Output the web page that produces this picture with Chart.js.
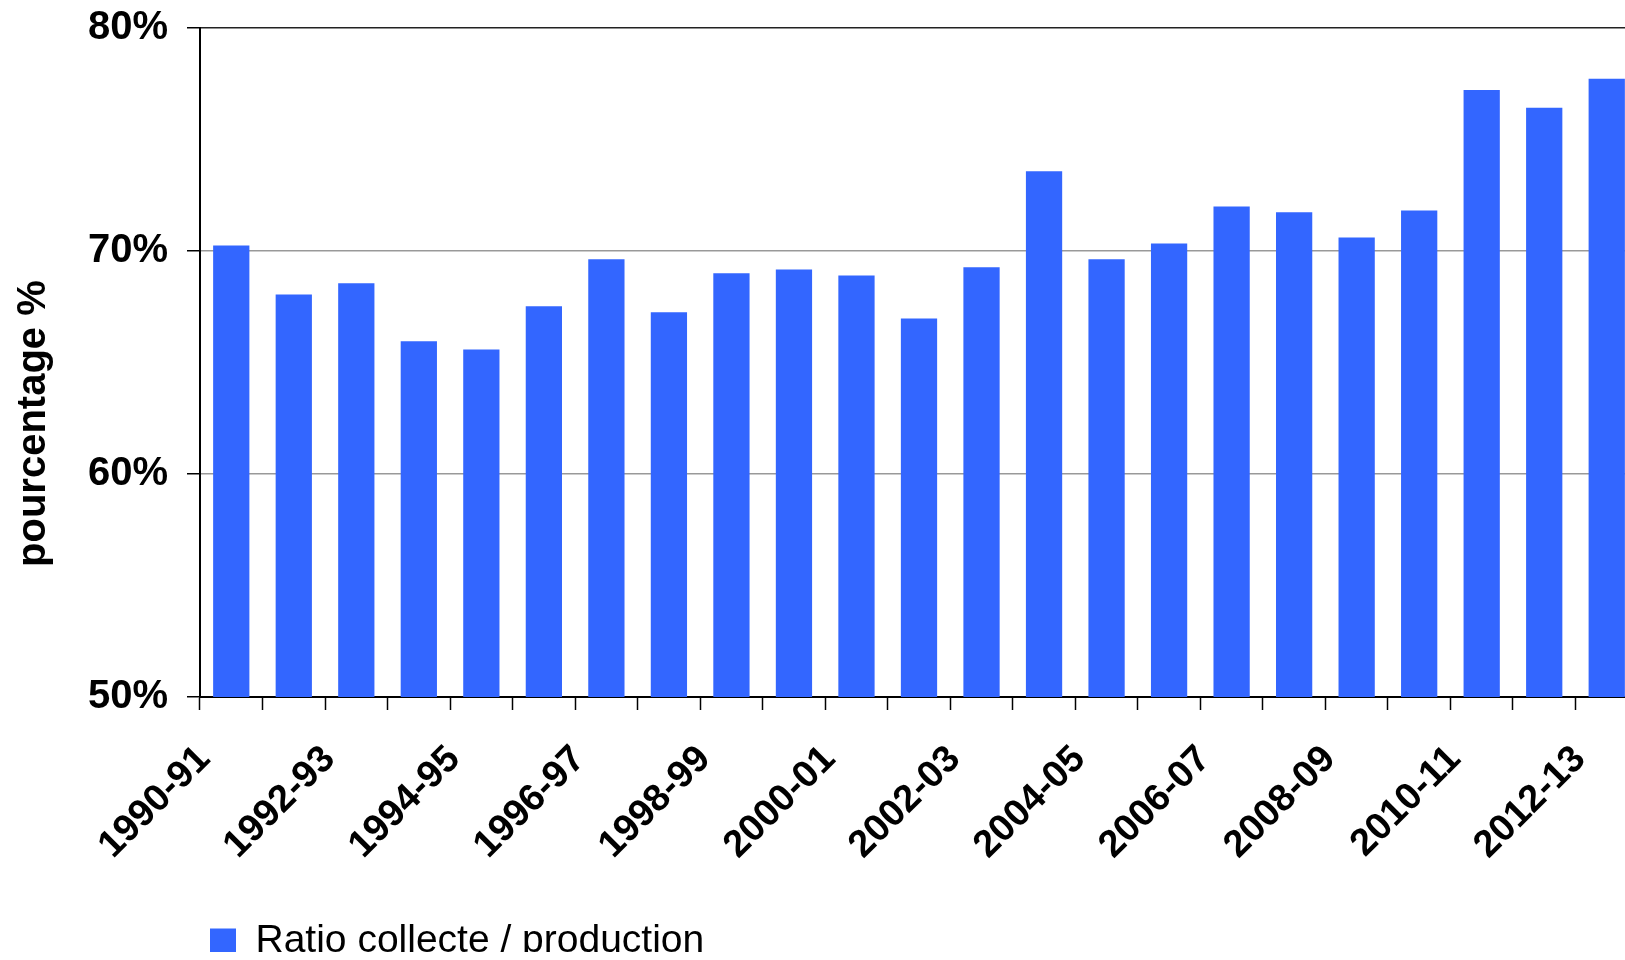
<!DOCTYPE html>
<html><head><meta charset="utf-8">
<script src="https://cdn.jsdelivr.net/npm/chart.js@4.4.0/dist/chart.umd.min.js"></script>
<style>
html,body{margin:0;padding:0;overflow:hidden;background:#fff;}
#wrap{width:1640px;height:960px;position:relative;}
</style></head><body>
<div id="wrap"><canvas id="c" width="1640" height="960" style="width:1640px;height:960px"></canvas></div>
<script>
const categories = ['1990-91','1991-92','1992-93','1993-94','1994-95','1995-96','1996-97','1997-98','1998-99','1999-00','2000-01','2001-02','2002-03','2003-04','2004-05','2005-06','2006-07','2007-08','2008-09','2009-10','2010-11','2011-12','2012-13'];
const ratioValues = [70.25,68.05,68.55,65.95,65.58,67.52,69.63,67.25,69.0,69.17,68.9,66.97,69.27,73.58,69.63,70.34,72.0,71.74,70.61,71.82,77.22,76.42,77.72];
const yTickValues = [50,60,70,80];
const seriesName = 'Ratio collecte / production';
const yAxisTitle = 'pourcentage %';
const barColor = '#3366FF';
const FONT = "'Liberation Sans', Arial, sans-serif";

new Chart(document.getElementById('c'), {
  type: 'bar',
  data: {
    labels: categories,
    datasets: [{
      label: seriesName,
      data: ratioValues,
      backgroundColor: barColor,
      borderWidth: 0,
      categoryPercentage: 1,
      barPercentage: 0.58
    }]
  },
  options: {
    responsive: false,
    animation: false,
    layout: {padding: {left: 0, right: 2, top: 28, bottom: 8}},
    plugins: {
      tooltip: {enabled: false},
      legend: {
        position: 'bottom', align: 'start', fullSize: false, maxHeight: 40,
        labels: {boxWidth: 26, boxHeight: 26, padding: 10, color: '#000',
          font: {family: FONT, size: 39, weight: 'normal'}}
      }
    },
    scales: {
      x: {
        offset: true,
        grid: {offset: true, drawOnChartArea: false, drawTicks: true, tickLength: 13, tickColor: '#000', tickWidth: 1.5},
        border: {color: '#000', width: 2},
        ticks: {
          autoSkip: false, maxRotation: 45, minRotation: 45, color: '#000', padding: 27, labelOffset: -27,
          font: {family: FONT, size: 38, weight: 'bold'},
          callback: (v, i) => (i % 2 === 0 ? categories[i] : '')
        },
        afterFit: s => { s.height = 215; s.paddingLeft = 0; s.paddingRight = 0; }
      },
      y: {
        min: yTickValues[0], max: yTickValues[yTickValues.length - 1],
        afterBuildTicks: s => { s.ticks = yTickValues.map(v => ({value: v})); },
        ticks: {color: '#000', padding: 19, font: {family: FONT, size: 40, weight: 'bold'},
          callback: v => v + '%'},
        grid: {color: c => (c.tick && c.tick.value === 80 ? '#222' : '#999'), lineWidth: 1.5,
          tickColor: '#000', tickLength: 13},
        border: {color: '#000', width: 2},
        title: {display: true, text: yAxisTitle + '           ', color: '#000',
          font: {family: FONT, size: 40, weight: 'bold'}, padding: {top: 10, bottom: 0}},
        afterFit: s => { s.width = 200; s.paddingTop = 0; s.paddingBottom = 0; }
      }
    }
  }
});
</script>
</body></html>
